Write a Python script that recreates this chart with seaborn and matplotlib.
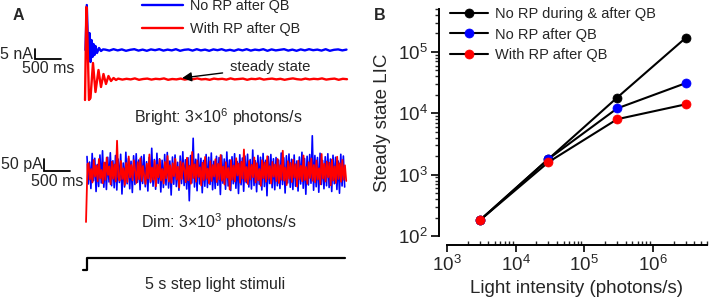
import numpy as np
import matplotlib
matplotlib.use("Agg")
import matplotlib.pyplot as plt
import seaborn as sns

# ---------------- data ----------------
# Panel B: steady state LIC vs light intensity
intensity = [3e3, 3e4, 3e5, 3e6]
lic_no_rp_during_after = [180, 1800, 18000, 170000]
lic_no_rp_after = [180, 1800, 12000, 31000]
lic_with_rp_after = [180, 1600, 8000, 14000]
series_labels = ["No RP during & after QB", "No RP after QB", "With RP after QB"]
series_colors = ["#000000", "#0000FF", "#FF0000"]

# Panel A, bright light (nA): initial transient (time s, current nA) + steady tail
bright_blue_t = [-0.03, -0.004, 0.029, 0.048, 0.067, 0.087, 0.106, 0.125, 0.144, 0.163, 0.192, 0.231, 0.269, 0.308]
bright_blue_i = [0.0, 22.5, -5.0, 8.5, -6.0, 5.0, -3.5, 3.0, -2.5, 2.0, -1.5, 1.0, -0.5, 0.3]
bright_blue_tail = [0.2, -0.3, 0.4, -0.2, 0.3, -0.4, 0.1, 0.4, -0.3, 0.2, -0.4, 0.3, -0.1, 0.4,
                    -0.3, 0.2, -0.2, 0.4, -0.4, 0.1, 0.3, -0.3, 0.4, -0.2, 0.2, -0.4, 0.3, -0.1,
                    0.4, -0.3, 0.1, -0.4, 0.3, -0.2, 0.4, -0.3, 0.2, -0.1, 0.4, -0.4, 0.3, -0.2,
                    0.1, 0.4, -0.3, 0.2, -0.4, 0.3, -0.2, 0.4, -0.1, 0.2, -0.3, 0.4, -0.4, 0.1,
                    0.3, -0.2, 0.2]
bright_red_t = [-0.038, -0.013, 0.010, 0.038, 0.067, 0.115, 0.163, 0.221, 0.269, 0.317, 0.365, 0.413, 0.462, 0.510, 0.558]
bright_red_i = [-25.0, 21.5, 5.0, -25.0, -24.0, -6.5, -21.0, -10.0, -18.5, -12.0, -17.0, -13.0, -15.5, -14.0, -15.0]
bright_red_tail = [-14.3, -14.8, -14.4, -14.7, -14.2, -14.9, -14.5, -14.3, -14.8, -14.4, -14.6, -14.2,
                   -14.9, -14.5, -14.7, -14.3, -14.8, -14.4, -14.6, -14.2, -14.7, -14.5, -14.9, -14.3,
                   -14.6, -14.4, -14.8, -14.2, -14.7, -14.5, -14.3, -14.9, -14.4, -14.6, -14.2, -14.8,
                   -14.5, -14.3, -14.7, -14.4, -14.9, -14.5, -14.2, -14.6, -14.8, -14.3, -14.7, -14.4,
                   -14.6, -14.2, -14.8, -14.5, -14.3, -14.9, -14.4, -14.6]
tail_dt = 0.08

# Panel A, dim light (pA)
dim_red_start_t = [-0.019, 0.010]
dim_red_start_i = [-200, 31]
dim_red = [35, -30, 12, -42, 48, -18, 26, -37, 52, -25, 8, -45, 38, -31, 58, -12, 22, -49, 41, -27,
           30, -38, 125, -20, -35, 44, -28, 15, -52, 36, -40, 62, -22, 28, -33, 47, 5, -44, 39, -29,
           55, -36, 24, -15, -48, 33, -26, 70, -39, 18, -31, 45, -57, 29, -21, 50, -34, 12, -46, 40,
           -25, 64, -38, 27, -43, 35, -17, 53, -30, 21, -62, 42, -28, 36, 10, -41, 57, -33, 25, -47,
           80, -24, 31, -39, 46, -20, 19, -54, 37, -32, 60, -27, 14, -45, 43, -36, 28, -18, 51, -40,
           33, -29, 68, -35, 22, -50, 39, -23, 16, -70, 48, -31, 26, -38, 55, -14, 34, -43, 41, -26,
           90, -37, 20, -48, 44, -30, 29, -21, 58, -42, 35, -33, 12, -55, 47, -25, 38, -39, 63, -28,
           24, -46, 40, -19, 30, -36, 52, -44, 27, -31, 85, -34, 18, -52, 43, -27, 36, -40, 49, -22,
           31, -58, 45, -29, 25, -37, 66, -32, 20, -47, 39, -24, 54, -35, 28, -41, 46, -30, 15, -49,
           72, -26, 33, -38, 42, -21, 37, -53, 50, -34, 23, -44, 61, -28, 35, -39, 48, -31, 27, -36]
dim_blue = [62, -48, 40, -66, 74, -35, 55, -78, 30, -58, 68, -44, 85, -61, 38, -70, 59, -40, 77, -55,
            45, -63, 66, -72, 52, -42, 71, -88, 36, -60, 79, -47, 54, -67, 43, -82, 65, -50, 73, -41,
            48, -71, 62, -46, 69, -59, 41, -76, 58, -43, 95, -57, 50, -69, 75, -45, 53, -80, 47, -62,
            70, -52, 78, -64, 44, -92, 60, -49, 68, -58, 39, -73, 64, -46, 81, -54, 49, -68, 57, -115,
            66, -44, 135, -60, 51, -75, 72, -48, 55, -83, 46, -57, 70, -62, 59, -50, 76, -71, 43, -66,
            63, -53, 58, -90, 67, -45, 52, -69, 80, -56, 48, -74, 61, -47, 73, -65, 42, -86, 69, -51,
            56, -77, 64, -43, 71, -60, 50, -68, 88, -54, 45, -79, 66, -49, 59, -72, 74, -58, 47, -95,
            62, -46, 70, -63, 53, -71, 58, -55, 48, -66, 76, -50, 57, -84, 65, -44, 72, -61, 51, -70,
            68, -57, 44, -76, 60, -48, 79, -65, 54, -89, 63, -52, 70, -45, 145, -73, 66, -59, 58, -81,
            75, -50, 46, -67, 61, -55, 73, -62, 52, -78, 67, -47, 59, -70, 44, -85, 71, -56, 64, -60]
dim_dt = 0.0249

# Step light stimulus
stim_t = [-0.08, 0.0, 0.0, 4.96]
stim_v = [0, 0, 1, 1]

# ---------------- style ----------------
sns.set_style("ticks")
plt.rcParams["font.family"] = ["Liberation Sans", "DejaVu Sans"]
plt.rcParams["mathtext.fontset"] = "custom"
plt.rcParams["mathtext.rm"] = "Liberation Sans"
plt.rcParams["mathtext.it"] = "Liberation Sans:italic"
plt.rcParams["mathtext.bf"] = "Liberation Sans:bold"
plt.rcParams["mathtext.default"] = "regular"

W, H = 709, 302
fig = plt.figure(figsize=(W / 100, H / 100), dpi=100)


def fx(px):
    return px / W


def fy(py):
    return 1 - py / H


BLUE = "#0000FF"
RED = "#FF0000"
XL = (-87 / 52, 273 / 52)

# ---------------- Panel A: bright ----------------
axA1 = fig.add_axes([0, fy(125), fx(360), 125 / H])
bt_blue = list(bright_blue_t) + list(0.35 + tail_dt * np.arange(len(bright_blue_tail)))
bi_blue = list(bright_blue_i) + list(bright_blue_tail)
bt_red = list(bright_red_t) + list(0.6 + tail_dt * np.arange(len(bright_red_tail)))
bi_red = list(bright_red_i) + list(bright_red_tail)
sns.lineplot(x=bt_blue, y=bi_blue, ax=axA1, color=BLUE, lw=1.7, sort=False, estimator=None,
             label="No RP after QB")
sns.lineplot(x=bt_red, y=bi_red, ax=axA1, color=RED, lw=1.7, sort=False, estimator=None,
             label="With RP after QB")
axA1.set_xlim(*XL)
axA1.set_ylim(-37.5, 25)
axA1.set_axis_off()
# scale bar 5 nA / 500 ms
axA1.plot([-1.0, -1.0, -0.5], [0.5, -4.5, -4.5], color="k", lw=1.3, solid_joinstyle="miter")
axA1.text(-1.04, -2.3, "5 nA", ha="right", va="center", fontsize=11.5)
axA1.text(-0.75, -9.2, "500 ms", ha="center", va="center", fontsize=11.5)
axA1.annotate("steady state", xy=(1.83, -14.0), xytext=(2.75, -8.5), ha="left", va="center",
              fontsize=10.7,
              arrowprops=dict(arrowstyle="-|>", color="k", lw=1.0, mutation_scale=14,
                              shrinkA=3, shrinkB=0))
h, l = axA1.get_legend_handles_labels()
axA1.legend(h, l, loc="upper left", bbox_to_anchor=(fx(142), fy(-1)), bbox_transform=fig.transFigure,
            frameon=False, fontsize=10.4, handlelength=2.85, handletextpad=0.5, labelspacing=0.6,
            borderpad=0, borderaxespad=0)

# ---------------- Panel A: dim ----------------
axA2 = fig.add_axes([0, fy(235), fx(360), 105 / H])
dt_blue = list(0.0 + dim_dt * np.arange(len(dim_blue)))
dt_red = list(dim_red_start_t) + list(0.03 + dim_dt * np.arange(len(dim_red)))
di_red = list(dim_red_start_i) + list(dim_red)
sns.lineplot(x=dt_blue, y=dim_blue, ax=axA2, color=BLUE, lw=1.2, sort=False, estimator=None)
sns.lineplot(x=dt_red, y=di_red, ax=axA2, color=RED, lw=1.3, sort=False, estimator=None)
axA2.set_xlim(*XL)
axA2.set_ylim(-252, 168)
axA2.set_axis_off()
axA2.plot([-0.827, -0.827, -0.327], [54, 4, 4], color="k", lw=1.3, solid_joinstyle="miter")
axA2.text(-0.86, 30, "50 pA", ha="right", va="center", fontsize=11.5)
axA2.text(-0.58, -40, "500 ms", ha="center", va="center", fontsize=11.5)

# ---------------- Panel A: stimulus ----------------
axA3 = fig.add_axes([0, fy(280), fx(360), 30 / H])
sns.lineplot(x=stim_t, y=stim_v, ax=axA3, color="k", lw=1.6, sort=False, estimator=None)
axA3.set_xlim(*XL)
axA3.set_ylim(-0.833, 1.667)
axA3.set_axis_off()

fig.text(fx(218), fy(117), "Bright: 3×10$^6$ photons/s", ha="center", va="center", fontsize=11.5)
fig.text(fx(219), fy(222), "Dim: 3×10$^3$ photons/s", ha="center", va="center", fontsize=11.5)
fig.text(fx(215), fy(284), "5 s step light stimuli", ha="center", va="center", fontsize=11.5)
fig.text(fx(18), fy(16), "A", ha="center", va="center", fontsize=11.5, fontweight="bold")
fig.text(fx(380), fy(15), "B", ha="center", va="center", fontsize=11.5, fontweight="bold")

# ---------------- Panel B ----------------
axB = fig.add_axes([fx(447), fy(236), 260 / W, 227 / H])
for ys, lab, c in zip([lic_no_rp_during_after, lic_no_rp_after, lic_with_rp_after],
                      series_labels, series_colors):
    sns.lineplot(x=intensity, y=ys, ax=axB, color="k", lw=1.5, marker="o", markersize=6.5,
                 markerfacecolor=c, markeredgecolor=c, markeredgewidth=0.5, label=lab,
                 sort=False, estimator=None)
axB.set_xscale("log")
axB.set_yscale("log")
axB.set_xlim(1e3, 6.1e6)
axB.set_ylim(100, 5e5)
axB.set_xlabel("Light intensity (photons/s)", fontsize=13.5, labelpad=4)
axB.set_ylabel("Steady state LIC", fontsize=13.5, labelpad=5)
axB.tick_params(axis="both", which="major", labelsize=13.5, width=1.2, color="k", pad=2)
axB.tick_params(axis="x", which="major", direction="out", length=5)
axB.tick_params(axis="x", which="minor", direction="in", length=3, width=1.0)
axB.tick_params(axis="y", which="major", direction="out", length=6)
axB.tick_params(axis="y", which="minor", direction="out", length=3, width=1.0)
for s in ["left", "bottom"]:
    axB.spines[s].set_linewidth(1.4)
    axB.spines[s].set_color("k")
sns.despine(ax=axB, offset={"left": 6, "bottom": 6.5})
h, l = axB.get_legend_handles_labels()
axB.legend(h, l, loc="upper left", bbox_to_anchor=(0.012, 1.007), frameon=False, fontsize=10.5,
           handlelength=2.6, handletextpad=0.5, labelspacing=0.42, borderpad=0, borderaxespad=0)

fig.savefig("out.png", dpi=100)
